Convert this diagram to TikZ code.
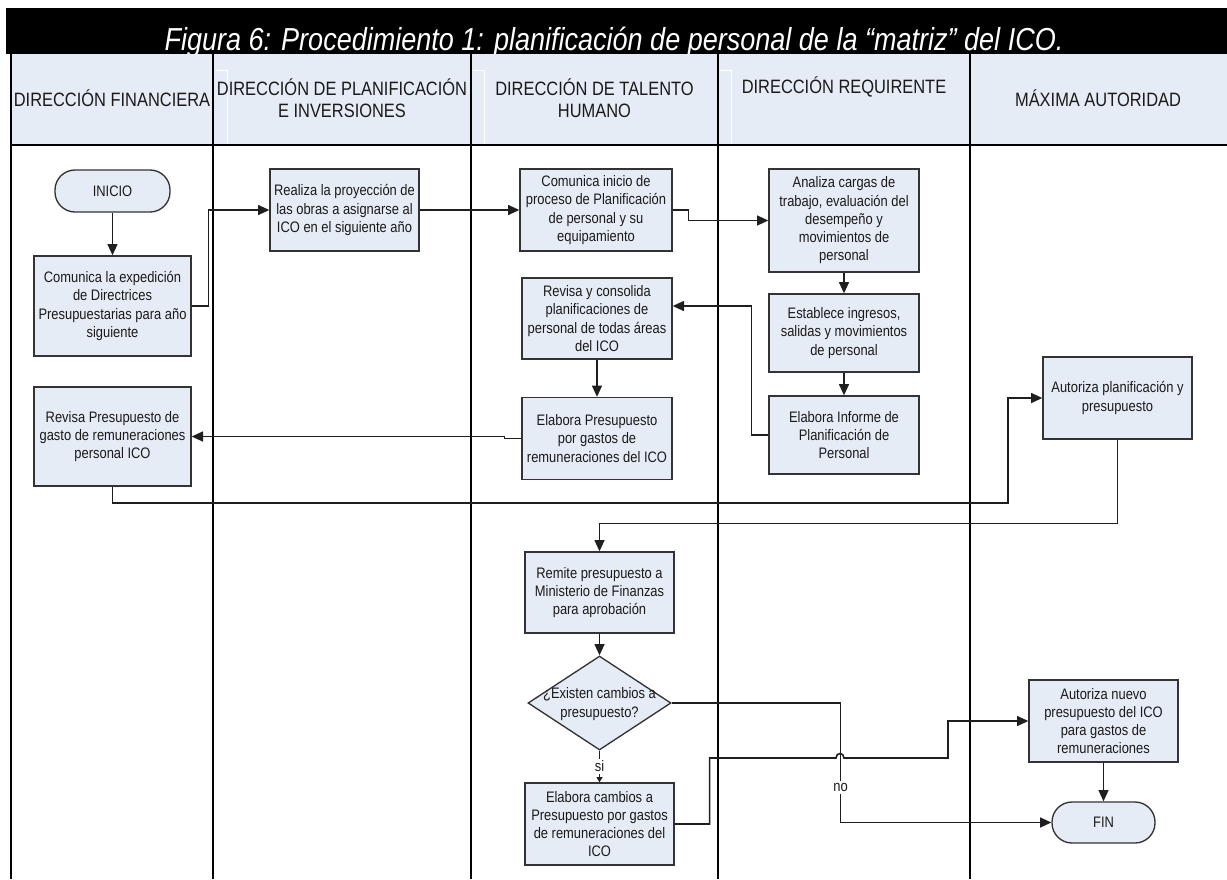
\documentclass[tikz,border=0pt]{standalone}
\usepackage{fontspec}
\setmainfont{Liberation Sans}[FakeStretch=0.85]
\usetikzlibrary{arrows.meta,shapes.geometric,calc}
\definecolor{lanefill}{HTML}{E6ECF6}
\definecolor{boxfill}{HTML}{E6ECF6}
\definecolor{boxline}{HTML}{333333}
\definecolor{flowline}{HTML}{1F1F1F}
\definecolor{txt}{HTML}{1A1A1A}

\begin{document}
\begin{tikzpicture}[x=0.75pt,y=-0.75pt,
  stepbox/.style={draw=boxline, fill=boxfill, line width=1pt, inner sep=0pt,
    align=center, text=txt, font=\fontsize{11.4}{13.7}\selectfont},
  wh/.style 2 args={minimum width=#1*0.75pt, minimum height=#2*0.75pt},
  term/.style={stepbox, rounded corners=15pt},
  decision/.style={diamond, draw=boxline, fill=boxfill, line width=1pt, inner sep=0pt},
  dtext/.style={align=center, text=txt, inner sep=0pt, font=\fontsize{11.4}{13.7}\selectfont},
  flow/.style={draw=flowline, line width=1.2pt, -{Triangle[length=8.5pt,width=7.5pt]}},
  smallflow/.style={draw=flowline, line width=1.2pt, -{Triangle[length=4pt,width=4.5pt]}},
  lane/.style={draw=black, line width=1pt},
  hdr/.style={align=center, text=txt, font=\fontsize{14.5}{16.5}\selectfont},
  lbl/.style={fill=white, inner sep=1.5pt, text=txt, font=\fontsize{11.4}{13.7}\selectfont},
]
\fill[white] (0,0) rectangle (1227,879);
\useasboundingbox (0,0) rectangle (1227,879);

% title bar
\fill[black] (6,8) rectangle (1227,54);
\node[anchor=base, text=white, inner sep=0pt,
  font=\fontsize{23.85}{28}\selectfont\itshape] (title) at (614,50)
  {Figura 6: Procedimiento 1: planificación de personal de la “matriz” del ICO.};

% lane headers
\fill[lanefill] (11,54) rectangle (1227,145);
\draw[white, line width=0.6pt] (216,70) -- (227,70) -- (227,144);
\draw[white, line width=0.6pt] (473,70) -- (484,70) -- (484,144);
\draw[white, line width=0.6pt] (720,70) -- (731,70) -- (731,144);

% lane borders
\draw[lane] (11,54) -- (11,879);
\foreach \lx in {213,471,718,970} { \draw[lane] (\lx,54) -- (\lx,879); }
\draw[lane] (11,145) -- (1227,145);

\node[hdr] (h1) at (112,98) {DIRECCIÓN FINANCIERA};
\node[hdr] (h2) at (342,98) {DIRECCIÓN DE PLANIFICACIÓN\\E INVERSIONES};
\node[hdr] (h3) at (594.5,98) {DIRECCIÓN DE TALENTO\\HUMANO};
\node[hdr] (h4) at (844,87) {DIRECCIÓN REQUIRENTE};
\node[hdr] (h5) at (1098,98) {MÁXIMA AUTORIDAD};

% Dirección Financiera
\node[term, wh={115}{42}] (inicio) at (112.5,191) {INICIO};
\node[stepbox, wh={157}{100}] (expd) at (112.5,306)
  {Comunica la expedición\\de Directrices\\Presupuestarias para año\\siguiente};
\node[stepbox, wh={157}{99}] (revp) at (112.5,436.5)
  {Revisa Presupuesto de\\gasto de remuneraciones\\personal ICO};

% Dirección de Planificación e Inversiones
\node[stepbox, wh={149}{82}] (proy) at (344.5,210)
  {Realiza la proyección de\\las obras a asignarse al\\ICO en el siguiente año};

% Dirección de Talento Humano
\node[stepbox, wh={152}{82}] (inic) at (596,210)
  {Comunica inicio de\\proceso de Planificación\\de personal y su\\equipamiento};
\node[stepbox, wh={150}{81}] (cons) at (597,318.5)
  {Revisa y consolida\\planificaciones de\\personal de todas áreas\\del ICO};
\node[stepbox, wh={150}{82}] (elab) at (597,438.5)
  {Elabora Presupuesto\\por gastos de\\remuneraciones del ICO};
\node[stepbox, wh={149}{81}] (remi) at (599.5,592.5)
  {Remite presupuesto a\\Ministerio de Finanzas\\para aprobación};
\node[decision, minimum width=143*0.75pt, minimum height=94*0.75pt] (dec) at (599.5,703) {};
\node[dtext] (dect) at (599.5,704) {¿Existen cambios a\\presupuesto?};
\node[stepbox, wh={149}{82}] (camb) at (599.5,824)
  {Elabora cambios a\\Presupuesto por gastos\\de remuneraciones del\\ICO};

% Dirección Requirente
\node[stepbox, wh={150}{103}] (anal) at (844,220.5)
  {Analiza cargas de\\trabajo, evaluación del\\desempeño y\\movimientos de\\personal};
\node[stepbox, wh={150}{78}] (esta) at (844,333)
  {Establece ingresos,\\salidas y movimientos\\de personal};
\node[stepbox, wh={150}{78}] (info) at (844,435)
  {Elabora Informe de\\Planificación de\\Personal};

% Máxima Autoridad
\node[stepbox, wh={149}{82}] (autp) at (1117.5,398)
  {Autoriza planificación y\\presupuesto};
\node[stepbox, wh={149}{82}] (autn) at (1103.5,721)
  {Autoriza nuevo\\presupuesto del ICO\\para gastos de\\remuneraciones};
\node[term, wh={103}{41}] (fin) at (1103.5,822.5) {FIN};

% connectors
\coordinate (up1) at (1008,503);
\coordinate (hopL) at (836,758);
\coordinate (hopR) at (844,758);
\coordinate (bend2) at (948,758);

\draw[flow] (inicio.south) -- (expd.north);
\draw[flow] (expd.east) -- ++(17,0) |- (proy.west);
\draw[flow] (proy.east) -- (inic.west);
\draw[flow] (inic.east) -- ++(16,0) |- (anal.west);
\draw[flow] (anal.south) -- (esta.north);
\draw[flow] (esta.south) -- (info.north);
\draw[flow] (info.west) -- ++(-17,0) |- ($(cons.east)+(0,-12.5)$);
\draw[flow] (cons.south) -- (elab.north);
\draw[flow] (elab.west) -- ++(-17,0) |- (revp.east);
\draw[flow] (revp.south) |- (up1) |- (autp.west);
\draw[flow] (autp.south) -- ++(0,84) -| (remi.north);
\draw[flow] (remi.south) -- (dec.north);
\draw[smallflow] (dec.south) -- node[lbl] (silbl) {si} (camb.north);
\draw[flow] (dec.east) -- ++(169,0) |- node[lbl, pos=0.354] (nolbl) {no} (fin.west);
\draw[flow] (camb.east) -- ++(35,0) |- (hopL)
  .. controls +(0,-6) and +(0,-6) .. (hopR) -- (bend2) |- (autn.west);
\draw[flow] (autn.south) -- (fin.north);
\end{tikzpicture}
\end{document}
